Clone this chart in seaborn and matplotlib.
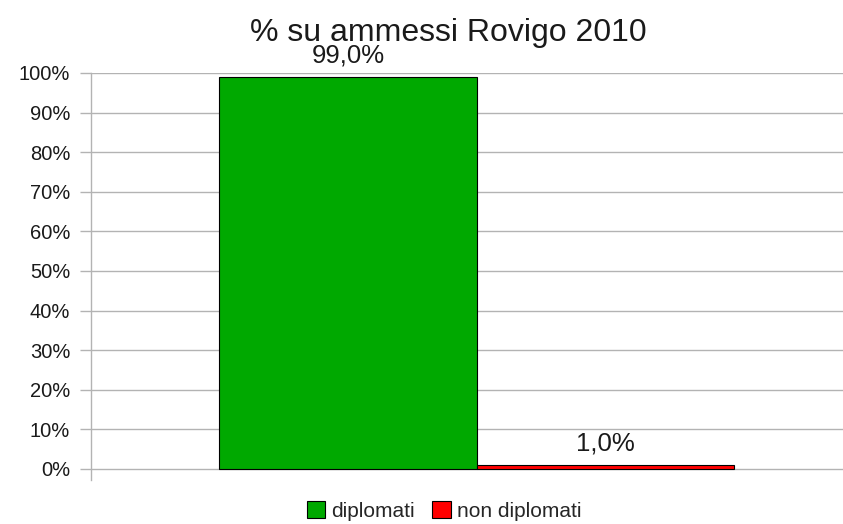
import pandas as pd
import matplotlib
matplotlib.use('Agg')
import matplotlib.pyplot as plt
import seaborn as sns
from matplotlib.patches import Patch

gruppi = ['diplomati', 'non diplomati']
valori = [99.0, 1.0]
colori = ['#00a900', '#ff0000']
titolo = '% su ammessi Rovigo 2010'
tick_y = list(range(0, 101, 10))

sns.set_theme(style='white')
plt.rcParams['font.family'] = ['Liberation Sans', 'DejaVu Sans']

df = pd.DataFrame({'cat': [''] * len(gruppi), 'gruppo': gruppi, 'valore': valori})

fig = plt.figure(figsize=(8.43, 5.24), dpi=100)
ax = fig.add_axes([91 / 843, 1 - 480 / 524, 1 - 91 / 843, (480 - 73) / 524])

sns.barplot(data=df, x='cat', y='valore', hue='gruppo', palette=colori,
            hue_order=gruppi, width=0.8, edgecolor='black', linewidth=0.8,
            legend=False, ax=ax, saturation=1)

ax.set_ylim(-11 / 396 * 100, 100)
ax.set_xlim(-0.599, 0.569)
ax.set_yticks(tick_y)
ax.set_yticklabels([f'{t}%' for t in tick_y], fontsize=14.5, color='#1a1a1a')
ax.yaxis.grid(True, color='#b3b3b3', linewidth=1)
ax.set_axisbelow(True)
ax.tick_params(axis='y', length=8, width=1, color='#b3b3b3', pad=7, left=True)
ax.tick_params(axis='x', length=0, labelbottom=False)
ax.set_xlabel('')
ax.set_ylabel('')
for s in ['top', 'right', 'bottom']:
    ax.spines[s].set_visible(False)
ax.spines['left'].set_color('#b3b3b3')
ax.spines['left'].set_linewidth(1)

for cont, v in zip(ax.containers, valori):
    ax.bar_label(cont, labels=[f'{v:.1f}'.replace('.', ',') + '%'],
                 padding=7, fontsize=18.5, color='#1a1a1a')

fig.text(448 / 843, 1 - 33 / 524, titolo, ha='center', va='center',
         fontsize=23, color='#1a1a1a')

handles = [Patch(facecolor=c, edgecolor='black', linewidth=0.8) for c in colori]
fig.legend(handles, gruppi, loc='center', bbox_to_anchor=(444 / 843, 1 - 511 / 524),
           ncol=2, frameon=False, fontsize=15, handlelength=0.9, handleheight=0.9,
           handletextpad=0.3, columnspacing=0.8)

fig.savefig('out.png', dpi=100)
